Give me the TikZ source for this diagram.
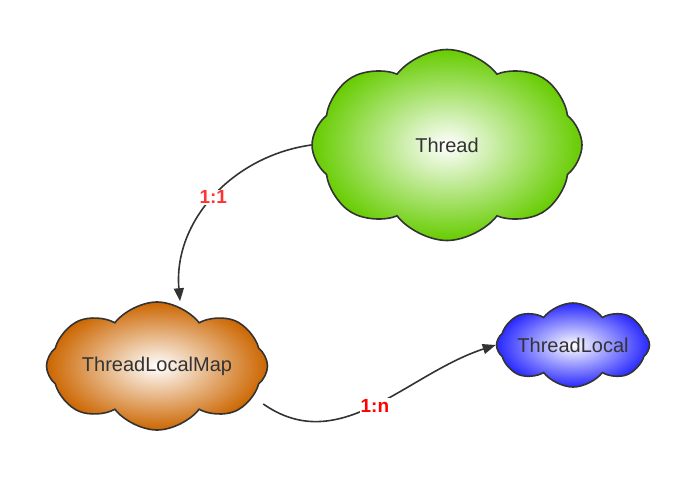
\documentclass[tikz,border=0pt]{standalone}
\usepackage{fontspec}
\setmainfont{Liberation Sans}
\usetikzlibrary{arrows.meta, positioning, shapes.symbols}

\definecolor{cgreen}{RGB}{102,204,0}
\definecolor{corange}{RGB}{204,102,0}
\definecolor{cblue}{RGB}{40,40,255}
\definecolor{cline}{RGB}{51,51,51}
\definecolor{lred}{RGB}{255,51,51}

\tikzset{
	blob/.style={cloud, cloud puffs=8, cloud puff arc=105, cloud ignores aspect, draw=cline, line width=1.6pt,
		inner sep=0pt, text=cline, font=\fontsize{20}{24}\selectfont},
	conn/.style={color=cline, line width=1.6pt, -{Triangle[length=13pt,width=10pt]}},
	lab/.style={fill=white, inner sep=1pt, font=\fontsize{19}{23}\selectfont\bfseries}
}

\begin{document}
\begin{tikzpicture}[x=1pt, y=-1pt]
	\useasboundingbox (0,0) rectangle (682,493);
	\node[blob, inner color=white, outer color=cgreen, minimum width=270pt, minimum height=191pt] (T) at (447,145) {Thread};
	\node[blob, inner color=white, outer color=corange, minimum width=221pt, minimum height=128pt] (M) at (157,366) {ThreadLocalMap};
	\node[blob, inner color=white, outer color=cblue, minimum width=153pt, minimum height=84pt] (L) at (573,345) {ThreadLocal};
	
	% Relations
	\path[conn]
	(T.west) edge[out=188, in=95] node[lab, text=lred, pos=0.5] {1:1} ([xshift=23pt]M.north)
	([xshift=-5pt,yshift=-38pt]M.east) edge[out=-35, in=198] node[lab, text=red, pos=0.5] {1:n} (L.west)
	;
\end{tikzpicture}
\end{document}
